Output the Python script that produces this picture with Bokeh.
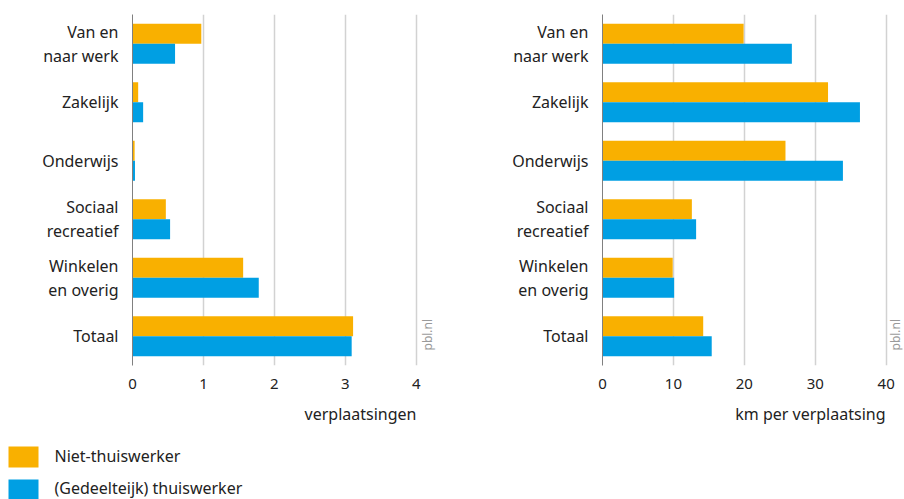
import math
from bokeh.plotting import figure
from bokeh.layouts import row, column
from bokeh.models import (ColumnDataSource, FactorRange, Range1d, FixedTicker,
                          Label, Title)
from bokeh.transform import dodge
from bokeh.embed import file_html
from bokeh.resources import INLINE

# ---- data ----
categories = ["Van en\nnaar werk", "Zakelijk", "Onderwijs",
              "Sociaal\nrecreatief", "Winkelen\nen overig", "Totaal"]
trips_niet = [0.97, 0.08, 0.03, 0.47, 1.56, 3.11]
trips_thuis = [0.60, 0.15, 0.035, 0.53, 1.78, 3.09]
km_niet = [19.9, 31.8, 25.8, 12.6, 9.9, 14.2]
km_thuis = [26.7, 36.3, 33.9, 13.2, 10.1, 15.4]
ticks_trips = [0, 1, 2, 3, 4]
ticks_km = [0, 10, 20, 30, 40]
series_names = ["Niet-thuiswerker", "(Gedeelteijk) thuiswerker"]
title_trips = "verplaatsingen"
title_km = "km per verplaatsing"
source_label = "pbl.nl"

ORANGE = "#f9b000"
BLUE = "#009fe3"
TEXT = "#222222"
FONT = "Noto Sans"


def make_panel(vals_a, vals_b, ticks, xmax, pbl_x, xtitle, width, left, right,
               title_offset):
    p = figure(width=width, height=440,
               y_range=FactorRange(*reversed(categories), range_padding=0),
               x_range=Range1d(ticks[0], xmax),
               output_backend="svg", toolbar_location=None,
               min_border_left=left, min_border_right=right,
               min_border_top=14, min_border_bottom=75)
    src = ColumnDataSource(dict(cat=categories, a=vals_a, b=vals_b))
    p.hbar(y=dodge("cat", 0.171, range=p.y_range), left=0, right="a",
           height=0.342, fill_color=ORANGE, line_color=None, source=src)
    p.hbar(y=dodge("cat", -0.171, range=p.y_range), left=0, right="b",
           height=0.342, fill_color=BLUE, line_color=None, source=src)
    p.outline_line_color = None

    xa = p.xaxis[0]
    xa.ticker = FixedTicker(ticks=ticks)
    xa.axis_line_color = None
    xa.major_tick_line_color = None
    xa.minor_tick_line_color = None
    xa.major_label_standoff = 7
    xa.major_label_text_font = FONT
    xa.major_label_text_font_size = "15px"
    xa.major_label_text_color = TEXT

    ya = p.yaxis[0]
    ya.axis_line_color = "#808080"
    ya.axis_line_width = 1
    ya.major_tick_line_color = None
    ya.minor_tick_line_color = None
    ya.major_label_standoff = 8
    ya.major_label_text_font = FONT
    ya.major_label_text_font_size = "16px"
    ya.major_label_text_color = TEXT
    ya.major_label_text_align = "right"
    ya.major_label_text_line_height = 1.1

    p.ygrid.grid_line_color = None
    p.xgrid.ticker = FixedTicker(ticks=ticks)
    p.xgrid.grid_line_color = "#d2d2d2"
    p.xgrid.grid_line_width = 1.5

    t = Title(text=xtitle, align="right", offset=title_offset,
              text_font=FONT, text_font_size="16px", text_font_style="normal",
              text_color=TEXT, standoff=19)
    p.add_layout(t, "below")

    lab = Label(x=pbl_x, y=0, x_units="data", y_units="data",
                text=source_label, angle=math.pi / 2, y_offset=15,
                text_align="left", text_baseline="middle",
                text_font=FONT, text_font_size="12px", text_color="#9a9a9a")
    p.add_layout(lab)
    return p


p1 = make_panel(trips_niet, trips_thuis, ticks_trips, 4.3, 4.16, title_trips,
                447, 132, 10, 21)
p2 = make_panel(km_niet, km_thuis, ticks_km, 42.3, 41.3, title_km,
                457, 155, 2, 17)

# legend panel (pixel-space figure)
p3 = figure(width=904, height=59, output_backend="svg", toolbar_location=None,
            x_range=Range1d(0, 904), y_range=Range1d(59, 0),
            x_axis_type=None, y_axis_type=None, min_border=0)
p3.outline_line_color = None
p3.grid.grid_line_color = None
leg_src = ColumnDataSource(dict(
    name=series_names, color=[ORANGE, BLUE],
    top=[6, 39], bottom=[27, 60], mid=[15.5, 47.5]))
p3.quad(left=8, right=38, top="top", bottom="bottom", fill_color="color",
        line_color=None, source=leg_src)
p3.text(x=54, y="mid", text="name", text_baseline="middle", text_align="left",
        text_font={"value": FONT}, text_font_size="16px", text_color=TEXT,
        source=leg_src)

layout = column(row(p1, p2), p3)
open("out.html", "w").write(file_html(layout, INLINE))
